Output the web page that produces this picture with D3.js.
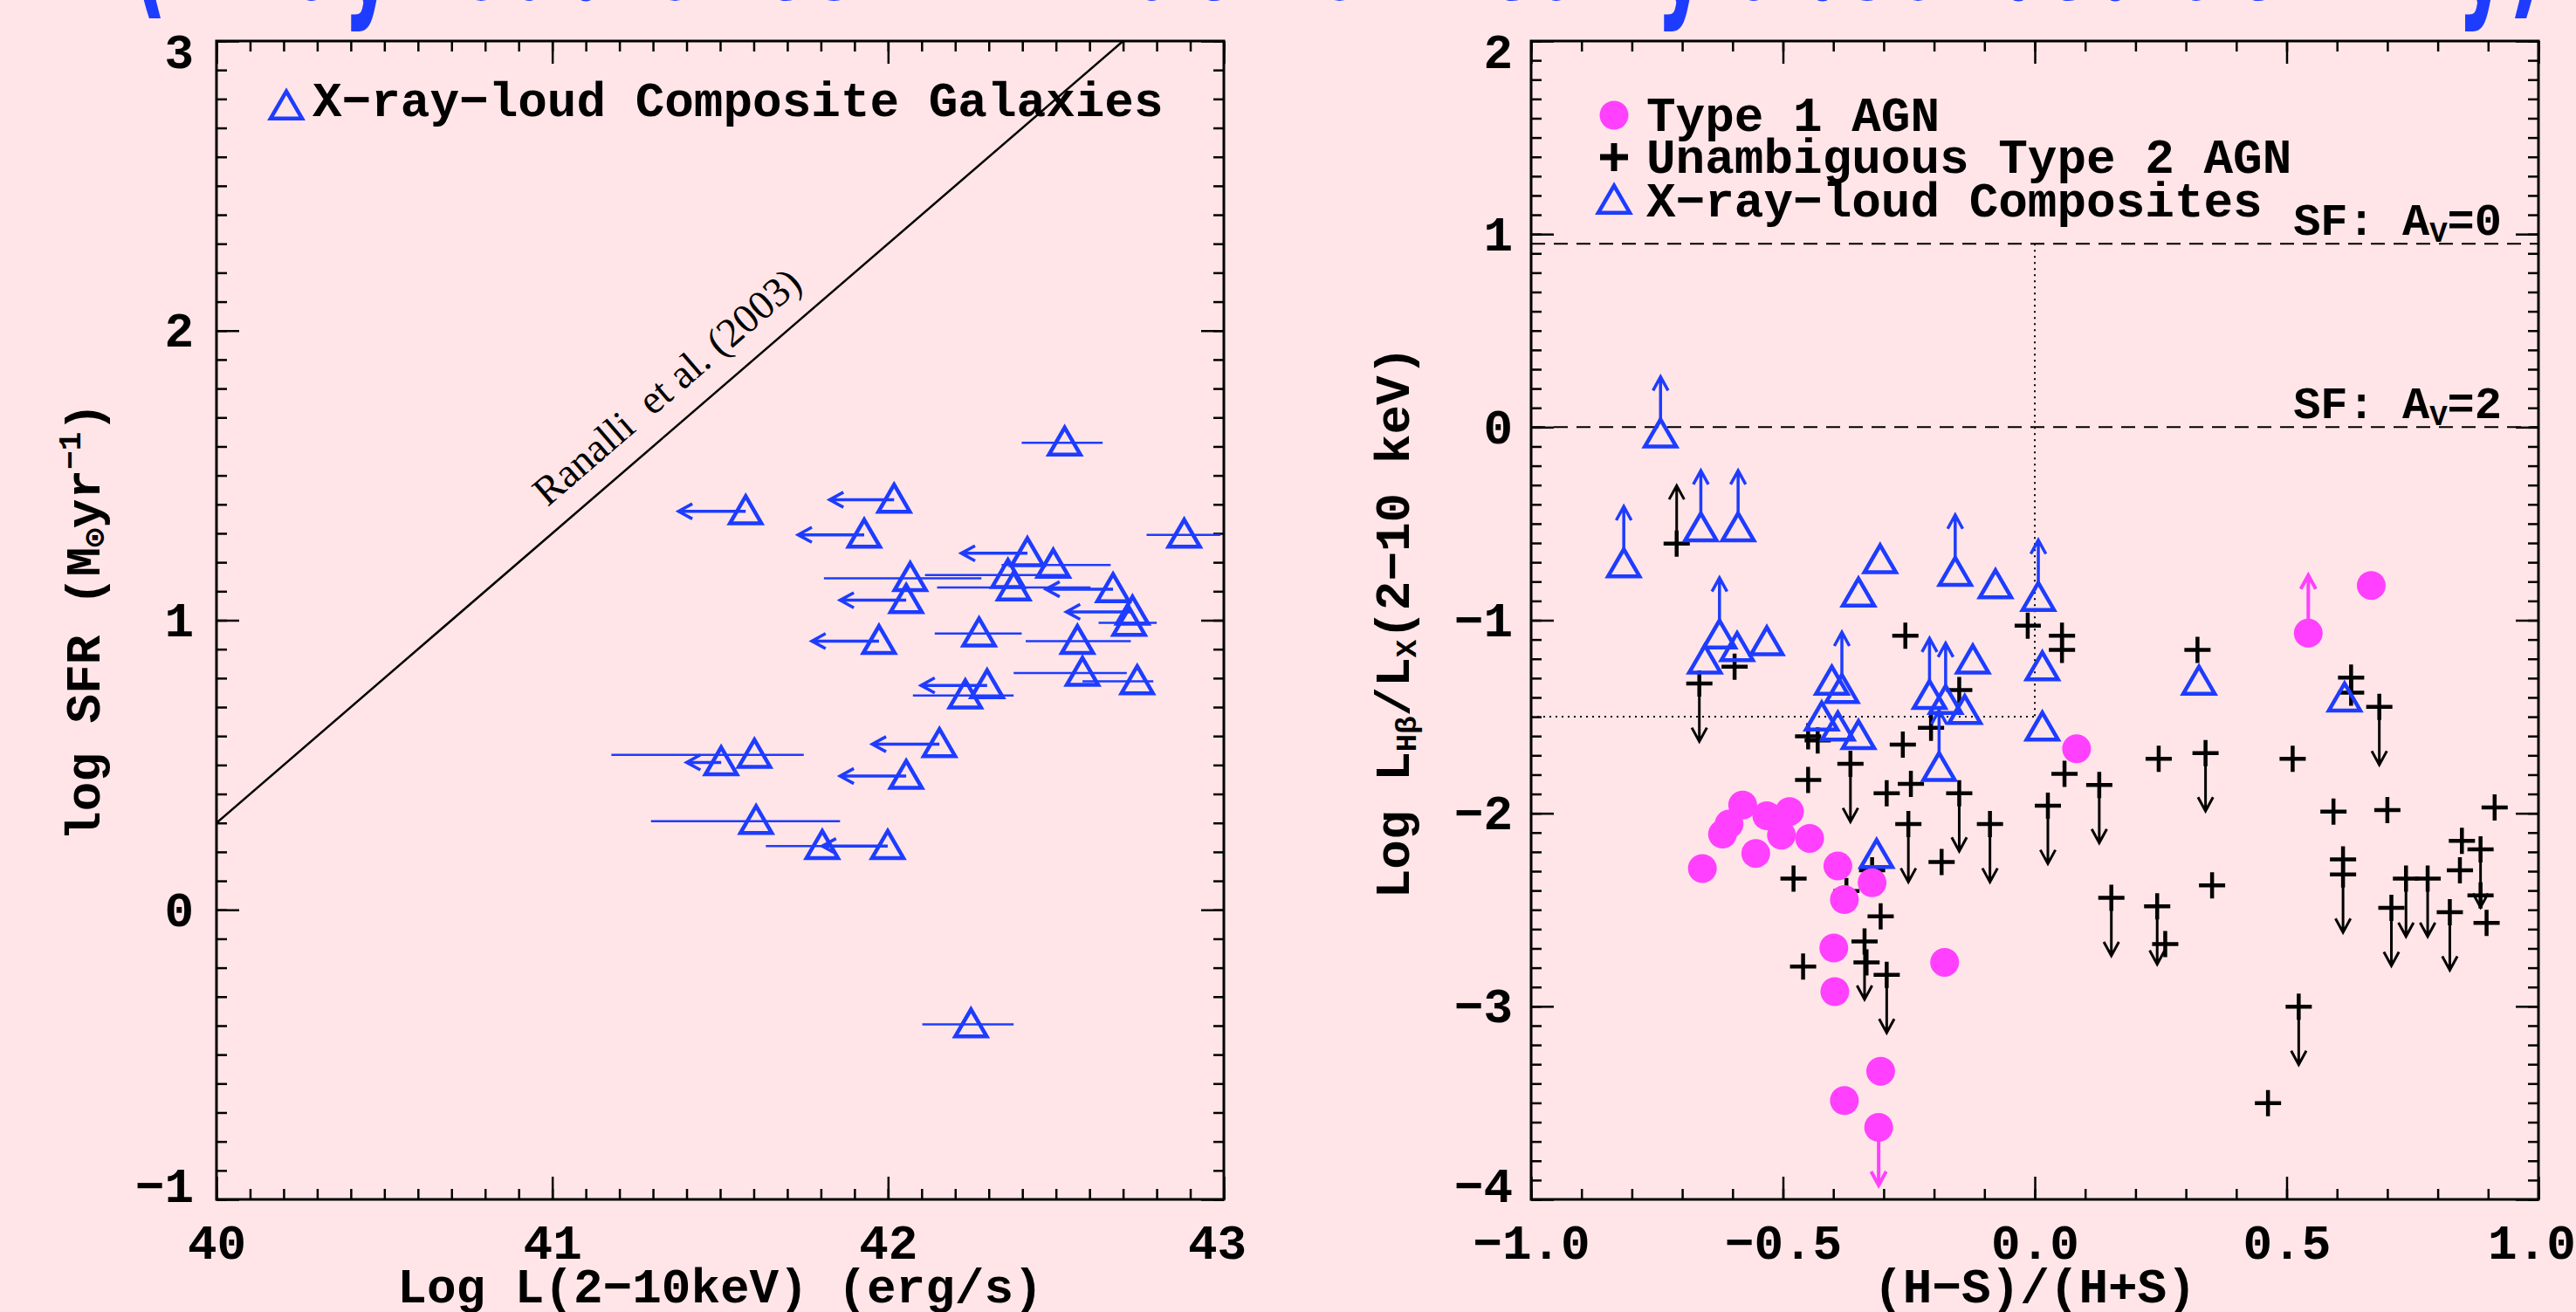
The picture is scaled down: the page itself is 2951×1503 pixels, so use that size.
<!DOCTYPE html>
<html>
<head>
<meta charset="utf-8">
<script src="https://cdn.jsdelivr.net/npm/d3@7"></script>
<style>
  html, body { margin: 0; padding: 0; background: #ffe5e7; }
  svg { display: block; }
</style>
</head>
<body>
<svg id="chart" width="2951" height="1503"></svg>
<script>
// ---------- Left panel: SFR vs hard X-ray luminosity of composite galaxies ----------
// log L(2-10 keV), log SFR, bar/arrow ends, and whether L is an upper limit
const compLx    = [42.526, 41.576, 42.018, 41.929, 42.882, 42.415, 42.492, 42.066, 42.357, 42.374,
                   42.670, 42.054, 42.728, 42.718, 41.973, 42.271, 42.564, 42.579, 42.742, 42.295,
                   42.230, 42.153, 42.054, 41.503, 41.602, 41.607, 41.804, 41.999, 42.247];
const compSFR   = [ 1.613,  1.376,  1.416,  1.295,  1.295,  1.231,  1.191,  1.145,  1.156,  1.113,
                    1.107,  1.069,  1.029,  0.991,  0.928,  0.954,  0.928,  0.818,  0.789,  0.775,
                    0.740,  0.572,  0.462,  0.509,  0.535,  0.306,  0.220,  0.220, -0.396];
const compLxLo  = [42.398, 41.376, 41.826, 41.732, 42.770, 42.218, 42.338, 41.809, 42.110, 42.146,
                   42.470, 41.857, 42.531, 42.627, 41.773, 42.139, 42.410, 42.374, 42.579, 42.098,
                   42.074, 41.953, 41.857, 41.400, 41.176, 41.294, 41.636, 41.804, 42.102];
const compLxHi  = [42.639, 41.576, 42.018, 41.929, 42.990, 42.415, 42.663, 42.278, 42.530, 42.603,
                   42.670, 42.054, 42.728, 42.800, 41.973, 42.398, 42.723, 42.711, 42.790, 42.295,
                   42.374, 42.153, 42.054, 41.503, 41.749, 41.857, 41.977, 41.999, 42.374];
const compLxLimit = [0,1,1,1,0,1,0,0,0,0, 1,1,1,0,1,0,0,0,0,1, 0,1,1,1,0,0,0,1,0];

// Ranalli et al. (2003) relation: log SFR = log L(2-10 keV) - 39.7
const ranalliLx  = [40.0, 42.7];
const ranalliSFR = [0.3, 3.0];

const leftXTicks  = [40, 41, 42, 43];
const leftXLabels = ["40", "41", "42", "43"];
const leftYTicks  = [-1, 0, 1, 2, 3];
const leftYLabels = ["\u22121", "0", "1", "2", "3"];

// ---------- Right panel: Hbeta-to-X-ray ratio vs hardness ratio ----------
// limit flag: 1 = lower limit (arrow up), -1 = upper limit (arrow down)
const type1HR  = [0.668, 0.543, 0.083, -0.580, -0.607, -0.620, -0.532, -0.487, -0.503, -0.447,
                  -0.554, -0.660, -0.391, -0.378, -0.323, -0.399, -0.397, -0.179, -0.378, -0.306, -0.310];
const type1Rat = [-0.820, -1.067, -1.666, -1.957, -2.056, -2.108, -2.013, -1.991, -2.113, -2.130,
                  -2.208, -2.286, -2.273, -2.447, -2.360, -2.698, -2.924, -2.772, -3.488, -3.336, -3.627];
const type1Lim = [0, 1, 0, 0, 0, 0, 0, 0, 0, 0,  0, 0, 0, 0, 0, 0, 0, 0, 0, 0, -1];

const type2HR  = [-0.711, -0.666, -0.596, -0.257, -0.014, 0.054, 0.054, 0.323, 0.628, 0.628,
                  0.684, -0.150, -0.206, -0.450, -0.431, -0.262, -0.366, -0.450, -0.246, -0.294,
                  -0.150, -0.089, -0.251, 0.059, 0.026, 0.128, 0.246, 0.339, 0.512, 0.593,
                  0.700, 0.913, 0.612, 0.612, 0.848, 0.885, 0.844, 0.737, 0.780, 0.708,
                  0.824, 0.885, 0.897, -0.479, -0.185, 0.152, 0.243, 0.259, 0.352, -0.374,
                  -0.323, -0.306, -0.460, -0.338, -0.334, -0.294, 0.524, 0.463];
const type2Rat = [-0.603, -1.328, -1.241, -1.080, -1.028, -1.080, -1.154, -1.154, -1.297, -1.375,
                  -1.449, -1.362, -1.557, -1.601, -1.623, -1.644, -1.744, -1.827, -1.848, -1.896,
                  -1.896, -2.056, -2.056, -1.796, -1.961, -1.853, -1.718, -1.688, -1.718, -1.991,
                  -1.983, -1.970, -2.239, -2.317, -2.143, -2.187, -2.295, -2.338, -2.338, -2.490,
                  -2.512, -2.425, -2.568, -2.338, -2.252, -2.438, -2.482, -2.677, -2.373, -2.403,
                  -2.295, -2.534, -2.794, -2.664, -2.772, -2.837, -3.002, -3.501];
const type2Lim = [1, -1, 0, 0, 0, 0, 0, 0, 0, 0,
                  -1, 0, 0, 0, 0, 0, -1, 0, 0, 0,
                  -1, -1, -1, 0, -1, -1, 0, -1, 0, 0,
                  0, 0, 0, -1, 0, -1, 0, -1, -1, -1,
                  -1, 0, 0, 0, 0, -1, -1, 0, 0, 0,
                  0, 0, 0, -1, 0, -1, -1, 0];

const compHR  = [-0.743, -0.816, -0.663, -0.589, -0.626, -0.655, -0.591, -0.532, -0.307, -0.350,
                 -0.158, -0.078, 0.007, 0.015, 0.015, -0.383, -0.403, -0.423, -0.350, -0.209,
                 -0.177, -0.139, -0.123, -0.190, -0.314, 0.326, 0.615, -0.391];
const compRat = [-0.039, -0.711, -0.525, -0.525, -1.080, -1.210, -1.145, -1.115, -0.690, -0.863,
                 -0.755, -0.820, -0.885, -1.245, -1.557, -1.362, -1.319, -1.505, -1.601, -1.393,
                 -1.419, -1.471, -1.210, -1.766, -2.217, -1.319, -1.406, -1.557];
const compLim = [1, 1, 1, 1, 1, 0, 0, 0, 0, 0,
                 1, 0, 1, 0, 0, 1, 0, 0, 0, 1,
                 1, 0, 0, 1, 0, 0, 0, 0];

// star-forming expectations (A_V = 0 and A_V = 2) and the dividing guides
const sfLevels = [0.95, 0.0];
const sfAv     = ["0", "2"];
const guideHR  = 0.0;
const guideRat = -1.5;

const rightXTicks  = [-1.0, -0.5, 0.0, 0.5, 1.0];
const rightXLabels = ["\u22121.0", "\u22120.5", "0.0", "0.5", "1.0"];
const rightYTicks  = [-4, -3, -2, -1, 0, 1, 2];
const rightYLabels = ["\u22124", "\u22123", "\u22122", "\u22121", "0", "1", "2"];

const limitLengthDex = 0.3;

// ---------- drawing ----------
const W = 2951, H = 1503;
const BLUE = "#1e3cff", PINK = "#ff40ff", INK = "#000";
const MONO = "'Liberation Mono', 'DejaVu Sans Mono', monospace";
const SERIF = "'Liberation Serif', 'DejaVu Serif', serif";
const FS = 56;

const svg = d3.select("#chart");
svg.append("rect").attr("width", W).attr("height", H).attr("fill", "#ffe5e7");

// slide heading, running off the top edge
svg.append("text")
  .attr("x", 150).attr("y", -1)
  .attr("font-family", "'DejaVu Sans', sans-serif")
  .attr("font-weight", "bold")
  .attr("font-size", 170)
  .attr("fill", BLUE)
  .attr("textLength", 2765)
  .attr("lengthAdjust", "spacingAndGlyphs")
  .text("(X-ray-loud ones with lack of nearly absorbed activity)");

const xL = d3.scaleLinear().domain([40, 43]).range([248, 1402]);
const yL = d3.scaleLinear().domain([-1, 3]).range([1374, 47]);
const xR = d3.scaleLinear().domain([-1, 1]).range([1754, 2908]);
const yR = d3.scaleLinear().domain([-4, 2]).range([1374, 47]);

function minorValues(domain, step) {
  const n = Math.round((domain[1] - domain[0]) / step);
  return d3.range(n + 1).map(i => +(domain[0] + i * step).toFixed(4));
}

function styleAxis(g) {
  g.select(".domain").remove();
  g.selectAll(".tick line").attr("stroke", INK).attr("stroke-width", 2.5);
  g.selectAll(".tick text")
    .attr("font-family", MONO).attr("font-weight", "bold")
    .attr("font-size", FS).attr("fill", INK);
}

function drawFrame(x, y, xTicks, xLabels, xStep, yTicks, yLabels, yStep, yPad) {
  const [xa, xb] = x.range();
  const [yb, ya] = y.range();
  const xMinor = minorValues(x.domain(), xStep);
  const yMinor = minorValues(y.domain(), yStep);

  const bottom = svg.append("g").attr("transform", `translate(0,${yb})`);
  bottom.append("g").call(d3.axisBottom(x).tickValues(xMinor).tickSize(-12).tickFormat("")).call(styleAxis);
  const xl = bottom.append("g").call(d3.axisBottom(x).tickValues(xTicks).tickSize(-26).tickPadding(28)
    .tickFormat((d, i) => xLabels[i])).call(styleAxis);
  // keep the last label inside the page
  xl.selectAll(".tick text").attr("dx", d => d === x.domain()[1] ? -8 : 0);

  const top = svg.append("g").attr("transform", `translate(0,${ya})`);
  top.append("g").call(d3.axisTop(x).tickValues(xMinor).tickSize(-12).tickFormat("")).call(styleAxis);
  top.append("g").call(d3.axisTop(x).tickValues(xTicks).tickSize(-26).tickFormat("")).call(styleAxis);

  const left = svg.append("g").attr("transform", `translate(${xa},0)`);
  left.append("g").call(d3.axisLeft(y).tickValues(yMinor).tickSize(-12).tickFormat("")).call(styleAxis);
  const lab = left.append("g").call(d3.axisLeft(y).tickValues(yTicks).tickSize(-26).tickPadding(yPad)
    .tickFormat((d, i) => yLabels[i])).call(styleAxis);
  // end labels sit just inside the frame
  lab.selectAll(".tick text").attr("dy", d =>
    d === y.domain()[0] ? "0.04em" : d === y.domain()[1] ? "0.54em" : "0.32em");

  const right = svg.append("g").attr("transform", `translate(${xb},0)`);
  right.append("g").call(d3.axisRight(y).tickValues(yMinor).tickSize(-12).tickFormat("")).call(styleAxis);
  right.append("g").call(d3.axisRight(y).tickValues(yTicks).tickSize(-26).tickFormat("")).call(styleAxis);

  svg.append("rect").attr("x", xa).attr("y", ya).attr("width", xb - xa).attr("height", yb - ya)
    .attr("fill", "none").attr("stroke", INK).attr("stroke-width", 3);
}

function triPath(cx, cy) {
  const w = 36, h = 31;
  return `M${cx},${cy - h * 0.56}L${cx + w / 2},${cy + h * 0.44}L${cx - w / 2},${cy + h * 0.44}Z`;
}
function crossPath(cx, cy, s) {
  return `M${cx - s / 2},${cy}H${cx + s / 2}M${cx},${cy - s / 2}V${cy + s / 2}`;
}
function arrowPath(x0, y0, x1, y1) {
  const a = Math.atan2(y1 - y0, x1 - x0), L = 18, sp = 0.5;
  const w1 = [x1 - L * Math.cos(a - sp), y1 - L * Math.sin(a - sp)];
  const w2 = [x1 - L * Math.cos(a + sp), y1 - L * Math.sin(a + sp)];
  return `M${x0},${y0}L${x1},${y1}M${w1[0]},${w1[1]}L${x1},${y1}L${w2[0]},${w2[1]}`;
}

// ===== left panel =====
drawFrame(xL, yL, leftXTicks, leftXLabels, 0.1, leftYTicks, leftYLabels, 0.1, 26);

const ranalli = d3.line().x(d => xL(d[0])).y(d => yL(d[1]));
svg.append("path")
  .attr("d", ranalli(d3.zip(ranalliLx, ranalliSFR)))
  .attr("fill", "none").attr("stroke", INK).attr("stroke-width", 2.5);

const slopePx = Math.atan2(yL(ranalliSFR[1]) - yL(ranalliSFR[0]), xL(ranalliLx[1]) - xL(ranalliLx[0])) * 180 / Math.PI;
const labLx = 41.03;
svg.append("text")
  .attr("transform", `translate(${xL(labLx)},${yL(labLx - 39.7)}) rotate(${slopePx})`)
  .attr("x", 0).attr("y", -26)
  .attr("font-family", SERIF).attr("font-size", 47).attr("fill", INK)
  .attr("xml:space", "preserve")
  .text("Ranalli  et al. (2003)");

const leftPts = d3.range(compLx.length).map(i => ({
  x: compLx[i], y: compSFR[i], lo: compLxLo[i], hi: compLxHi[i], lim: compLxLimit[i]
}));
const gL = svg.append("g");
gL.selectAll("path.bar").data(leftPts).join("path")
  .attr("class", "bar")
  .attr("d", d => d.lim
    ? arrowPath(xL(d.x), yL(d.y), xL(d.lo), yL(d.y))
    : `M${xL(d.lo)},${yL(d.y)}H${xL(d.hi)}`)
  .attr("fill", "none").attr("stroke", BLUE).attr("stroke-width", d => d.lim ? 3.5 : 2.5);
gL.selectAll("path.tri").data(leftPts).join("path")
  .attr("class", "tri")
  .attr("d", d => triPath(xL(d.x), yL(d.y)))
  .attr("fill", "none").attr("stroke", BLUE).attr("stroke-width", 4.5).attr("stroke-linejoin", "miter");

// legend
svg.append("path").attr("d", triPath(328, 122)).attr("fill", "none").attr("stroke", BLUE).attr("stroke-width", 4.5);
svg.append("text").attr("x", 358).attr("y", 133)
  .attr("font-family", MONO).attr("font-weight", "bold").attr("font-size", FS).attr("fill", INK)
  .text("X\u2212ray\u2212loud Composite Galaxies");

// axis titles
svg.append("text").attr("x", 825).attr("y", 1492).attr("text-anchor", "middle")
  .attr("font-family", MONO).attr("font-weight", "bold").attr("font-size", FS).attr("fill", INK)
  .text("Log L(2\u221210keV) (erg/s)");
const ytL = svg.append("text").attr("transform", "translate(114,712) rotate(-90)").attr("text-anchor", "middle")
  .attr("font-family", MONO).attr("font-weight", "bold").attr("font-size", FS).attr("fill", INK);
ytL.append("tspan").text("log SFR (M");
ytL.append("tspan").attr("font-size", 36).attr("dy", 6).text("\u2299");
ytL.append("tspan").attr("dy", -6).text("yr");
ytL.append("tspan").attr("font-size", 36).attr("dy", -22).text("\u22121");
ytL.append("tspan").attr("dy", 22).text(")");

// ===== right panel =====
drawFrame(xR, yR, rightXTicks, rightXLabels, 0.1, rightYTicks, rightYLabels, 0.1, 21);

const gR = svg.append("g");
gR.selectAll("line.sf").data(sfLevels).join("line")
  .attr("class", "sf")
  .attr("x1", xR(-1)).attr("x2", xR(1)).attr("y1", d => yR(d)).attr("y2", d => yR(d))
  .attr("stroke", INK).attr("stroke-width", 2).attr("stroke-dasharray", "16,10");
gR.append("line")
  .attr("x1", xR(guideHR)).attr("x2", xR(guideHR)).attr("y1", yR(sfLevels[0])).attr("y2", yR(guideRat))
  .attr("stroke", INK).attr("stroke-width", 2).attr("stroke-dasharray", "2,5");
gR.append("line")
  .attr("x1", xR(-1)).attr("x2", xR(guideHR)).attr("y1", yR(guideRat)).attr("y2", yR(guideRat))
  .attr("stroke", INK).attr("stroke-width", 2).attr("stroke-dasharray", "2,5");

sfLevels.forEach((lev, i) => {
  const t = gR.append("text").attr("x", 2866).attr("y", yR(lev) - 10).attr("text-anchor", "end")
    .attr("font-family", MONO).attr("font-weight", "bold").attr("font-size", 52).attr("fill", INK);
  t.append("tspan").text("SF: A");
  t.append("tspan").attr("font-size", 34).attr("dy", 8).text("V");
  t.append("tspan").attr("dy", -8).text("=" + sfAv[i]);
});

function limitTip(y, lim) { return y + lim * limitLengthDex; }

const t2 = d3.range(type2HR.length).map(i => ({ x: type2HR[i], y: type2Rat[i], lim: type2Lim[i] }));
const cp = d3.range(compHR.length).map(i => ({ x: compHR[i], y: compRat[i], lim: compLim[i] }));
const t1 = d3.range(type1HR.length).map(i => ({ x: type1HR[i], y: type1Rat[i], lim: type1Lim[i] }));

// Type 2 AGN: crosses with limit arrows
gR.selectAll("path.t2a").data(t2.filter(d => d.lim)).join("path")
  .attr("class", "t2a")
  .attr("d", d => arrowPath(xR(d.x), yR(d.y), xR(d.x), yR(limitTip(d.y, d.lim))))
  .attr("fill", "none").attr("stroke", INK).attr("stroke-width", 3);
gR.selectAll("path.t2").data(t2).join("path")
  .attr("class", "t2")
  .attr("d", d => crossPath(xR(d.x), yR(d.y), 30))
  .attr("fill", "none").attr("stroke", INK).attr("stroke-width", 4.5);

// X-ray-loud composites: open triangles
gR.selectAll("path.cpa").data(cp.filter(d => d.lim)).join("path")
  .attr("class", "cpa")
  .attr("d", d => arrowPath(xR(d.x), yR(d.y) - 17, xR(d.x), yR(limitTip(d.y, d.lim))))
  .attr("fill", "none").attr("stroke", BLUE).attr("stroke-width", 3.5);
gR.selectAll("path.cp").data(cp).join("path")
  .attr("class", "cp")
  .attr("d", d => triPath(xR(d.x), yR(d.y)))
  .attr("fill", "none").attr("stroke", BLUE).attr("stroke-width", 4.5);

// Type 1 AGN: filled circles
gR.selectAll("path.t1a").data(t1.filter(d => d.lim)).join("path")
  .attr("class", "t1a")
  .attr("d", d => arrowPath(xR(d.x), yR(d.y), xR(d.x), yR(limitTip(d.y, d.lim))))
  .attr("fill", "none").attr("stroke", PINK).attr("stroke-width", 4);
gR.selectAll("circle.t1").data(t1).join("circle")
  .attr("class", "t1")
  .attr("cx", d => xR(d.x)).attr("cy", d => yR(d.y)).attr("r", 16.5)
  .attr("fill", PINK);

// legend
const legY = [132, 180, 230];
svg.append("circle").attr("cx", 1849).attr("cy", legY[0]).attr("r", 16.5).attr("fill", PINK);
svg.append("path").attr("d", crossPath(1849, legY[1], 32)).attr("stroke", INK).attr("stroke-width", 7).attr("fill", "none");
svg.append("path").attr("d", triPath(1849, legY[2])).attr("fill", "none").attr("stroke", BLUE).attr("stroke-width", 4.5);
const legText = ["Type 1 AGN", "Unambiguous Type 2 AGN", "X\u2212ray\u2212loud Composites"];
legText.forEach((s, i) => {
  svg.append("text").attr("x", 1886).attr("y", legY[i] + 18)
    .attr("font-family", MONO).attr("font-weight", "bold").attr("font-size", FS).attr("fill", INK)
    .text(s);
});

// axis titles
svg.append("text").attr("x", 2331).attr("y", 1492).attr("text-anchor", "middle")
  .attr("font-family", MONO).attr("font-weight", "bold").attr("font-size", FS).attr("fill", INK)
  .text("(H\u2212S)/(H+S)");
const ytR = svg.append("text").attr("transform", "translate(1614,713) rotate(-90)").attr("text-anchor", "middle")
  .attr("font-family", MONO).attr("font-weight", "bold").attr("font-size", FS).attr("fill", INK);
ytR.append("tspan").text("Log L");
ytR.append("tspan").attr("font-size", 34).attr("dy", 8).text("H\u03b2");
ytR.append("tspan").attr("dy", -8).text("/L");
ytR.append("tspan").attr("font-size", 34).attr("dy", 8).text("X");
ytR.append("tspan").attr("dy", -8).text("(2\u221210 keV)");
</script>
</body>
</html>
